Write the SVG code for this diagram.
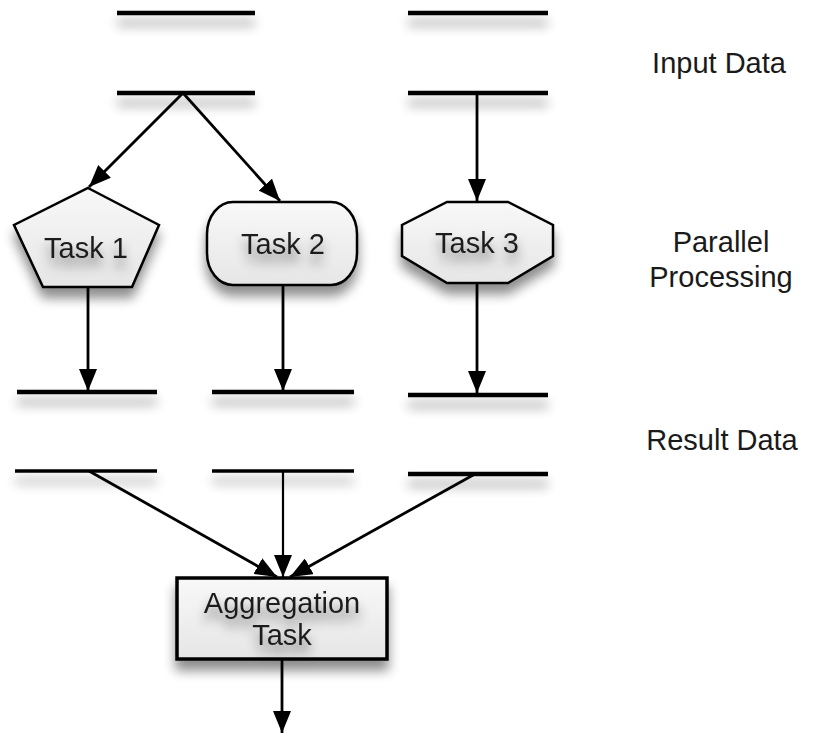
<svg xmlns="http://www.w3.org/2000/svg" width="836" height="734" viewBox="0 0 836 734">
  <defs>
    <style>
      .store { stroke: #000; stroke-width: 4.5; stroke-linecap: butt; }
      .thin { stroke-width: 3.5; }
      .shape { fill: url(#shade); stroke: #000; stroke-width: 2.5; }
      .box { fill: url(#shade); stroke: #000; stroke-width: 3.5; }
      .edge { stroke: #000; stroke-width: 2.8; fill: none; marker-end: url(#arrow); }
      .label { font-family: "Liberation Sans", Arial, Helvetica, sans-serif; font-size: 29px; fill: #1a1a1a; text-anchor: middle; }
      .task { font-family: "Liberation Sans", Arial, Helvetica, sans-serif; font-size: 29px; fill: #1e1e1e; text-anchor: middle; filter: url(#textShadow); }
    </style>
    <linearGradient id="shade" x1="0" y1="0" x2="0" y2="1">
      <stop offset="0" stop-color="#f8f8f8"/>
      <stop offset="1" stop-color="#e6e6e6"/>
    </linearGradient>
    <filter id="drop" x="-30%" y="-100%" width="160%" height="400%">
      <feGaussianBlur in="SourceAlpha" stdDeviation="6"/>
      <feOffset dx="0" dy="10" result="b"/>
      <feComponentTransfer><feFuncA type="linear" slope="0.45"/></feComponentTransfer>
      <feMerge><feMergeNode/><feMergeNode in="SourceGraphic"/></feMerge>
    </filter>
    <filter id="textShadow" x="-30%" y="-60%" width="160%" height="240%">
      <feGaussianBlur in="SourceAlpha" stdDeviation="6"/>
      <feOffset dx="0" dy="9"/>
      <feComponentTransfer><feFuncA type="linear" slope="0.5"/></feComponentTransfer>
      <feMerge><feMergeNode/><feMergeNode in="SourceGraphic"/></feMerge>
    </filter>
    <marker id="arrow" viewBox="0 0 22 18" refX="22" refY="9" markerWidth="22" markerHeight="18" markerUnits="userSpaceOnUse" orient="auto">
      <path d="M0,0 L22,9 L0,18 z" fill="#000"/>
    </marker>
  </defs>
  <rect width="836" height="734" fill="#fff"/>

  <!-- input data stores -->
  <g id="input-left" filter="url(#drop)">
    <line class="store" x1="117" y1="13" x2="255" y2="13"/>
    <line class="store" x1="117" y1="93" x2="255" y2="93"/>
  </g>
  <g id="input-right" filter="url(#drop)">
    <line class="store" x1="408" y1="13" x2="548" y2="13"/>
    <line class="store" x1="408" y1="93" x2="548" y2="93"/>
  </g>

  <!-- parallel tasks -->
  <g id="task1" filter="url(#drop)">
    <polygon class="shape" points="88,188 159,225 132,287 43,287 14,225"/>
  </g>
  <text class="task" x="86" y="258">Task 1</text>
  <g id="task2" filter="url(#drop)">
    <rect class="shape" x="207" y="202" width="150" height="83" rx="26" ry="32"/>
  </g>
  <text class="task" x="283" y="254">Task 2</text>
  <g id="task3" filter="url(#drop)">
    <polygon class="shape" points="447,202 508,202 553,225 553,256 508,283 447,283 402,256 402,225"/>
  </g>
  <text class="task" x="477" y="253">Task 3</text>

  <!-- result data stores -->
  <g id="result1" filter="url(#drop)">
    <line class="store" x1="17" y1="392" x2="157" y2="392"/>
    <line class="store thin" x1="15" y1="471" x2="157" y2="471"/>
  </g>
  <g id="result2" filter="url(#drop)">
    <line class="store" x1="212" y1="392" x2="354" y2="392"/>
    <line class="store thin" x1="212" y1="471" x2="354" y2="471"/>
  </g>
  <g id="result3" filter="url(#drop)">
    <line class="store" x1="408" y1="395" x2="548" y2="395"/>
    <line class="store" x1="408" y1="474" x2="548" y2="474"/>
  </g>

  <!-- aggregation -->
  <g id="aggregation" filter="url(#drop)">
    <rect class="box" x="177" y="578" width="210" height="81"/>
  </g>
  <text class="task" x="282" y="613">Aggregation</text>
  <text class="task" x="282" y="645">Task</text>

  <!-- connectors -->
  <g id="connectors">
    <line class="edge" x1="183" y1="93" x2="89" y2="187"/>
    <line class="edge" x1="183" y1="93" x2="280" y2="201"/>
    <line class="edge" x1="477" y1="93" x2="477" y2="201"/>
    <line class="edge" x1="88" y1="287" x2="88" y2="391"/>
    <line class="edge" x1="283" y1="285" x2="283" y2="391"/>
    <line class="edge" x1="477" y1="283" x2="477" y2="393"/>
    <line class="edge" x1="89" y1="471" x2="277" y2="577"/>
    <line class="edge" style="stroke-width:2.2" x1="283" y1="471" x2="283" y2="577"/>
    <line class="edge" x1="475" y1="474" x2="290" y2="577"/>
    <line class="edge" x1="282" y1="659" x2="282" y2="733"/>
  </g>

  <!-- row labels -->
  <text class="label" x="719" y="73">Input Data</text>
  <text class="label" x="721" y="252">Parallel</text>
  <text class="label" x="721" y="287">Processing</text>
  <text class="label" x="722" y="450">Result Data</text>
</svg>
